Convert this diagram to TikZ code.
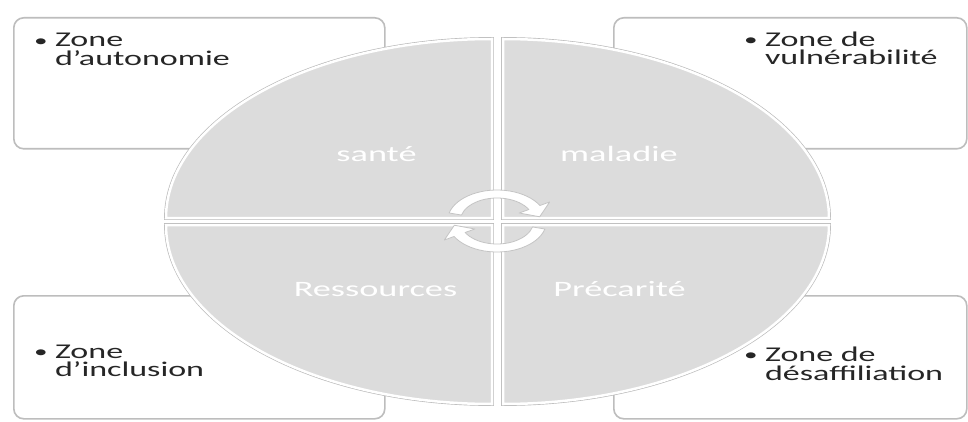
\documentclass[tikz,border=0pt]{standalone}
\usepackage{fontspec}
\setmainfont{Carlito}
\usepackage{graphicx}
\definecolor{quadfill}{HTML}{DCDCDC}
\definecolor{boxline}{HTML}{BDBDBD}
\definecolor{arrowline}{HTML}{C4C4C4}
\definecolor{zoneink}{HTML}{262626}
\newcommand{\zonebullet}{\raisebox{0.9pt}{\scalebox{0.8}{\textbullet}}}
\newcommand{\zonetext}[2]{\scalebox{1.62}[1]{\vbox{\fontsize{21}{18.5}\selectfont\hbox{\zonebullet\hspace{4.5pt}#1}\hbox{\hphantom{\zonebullet\hspace{4.5pt}}#2}}}}
\newcommand{\quadlabel}[1]{\scalebox{1.65}[1]{#1}}
\tikzset{
  zonebox/.style={draw=boxline, line width=1.6pt, fill=white, rounded corners=10pt, inner sep=0pt, anchor=north west},
  quadrant/.style={fill=quadfill, draw=white, line width=2.5pt},
  quadedge/.style={draw=gray!55, line width=3.8pt},
  cyclearrow/.style={fill=white, draw=arrowline, line width=0.8pt, line join=round},
  zonetxt/.style={inner sep=0pt, anchor=base west, text=zoneink},
  qlabel/.style={inner sep=0pt, anchor=base, text=white, font=\fontsize{22}{26}\selectfont},
}
\begin{document}
\begin{tikzpicture}[x=1pt,y=-1pt]
\path[fill=white,use as bounding box] (0,0) rectangle (968,422);
% zone boxes
\node[zonebox, minimum width=371pt, minimum height=131pt] (boxTL) at (13,17) {};
\node[zonebox, minimum width=353pt, minimum height=131pt] (boxTR) at (613,17) {};
\node[zonebox, minimum width=371pt, minimum height=123pt] (boxBL) at (13,295) {};
\node[zonebox, minimum width=353pt, minimum height=123pt] (boxBR) at (613,295) {};
% zone texts
\node[zonetxt] (txtTL) at (34,65.5) {\zonetext{Zone}{d’autonomie}};
\node[zonetxt] (txtTR) at (744,65) {\zonetext{Zone de}{vulnérabilité}};
\node[zonetxt] (txtBL) at (34,376.7) {\zonetext{Zone}{d’inclusion}};
\node[zonetxt] (txtBR) at (744,380) {\zonetext{Zone de}{désaffiliation}};
% quadrants
\foreach \st in {quadedge,quadrant}{
  \path[\st] (492,218) -- ++(-326,0) arc[start angle=180, end angle=270, x radius=326, y radius=179] -- cycle;
  \path[\st] (503,218) -- ++(0,-179) arc[start angle=270, end angle=360, x radius=326, y radius=179] -- cycle;
  \path[\st] (503,225) -- ++(326,0) arc[start angle=0, end angle=90, x radius=326, y radius=179] -- cycle;
  \path[\st] (492,225) -- ++(0,179) arc[start angle=90, end angle=180, x radius=326, y radius=179] -- cycle;
}
% cycle arrows
\begin{scope}[shift={(497,221)}, xscale=1.6, yscale=-1]
  \path[cyclearrow] (165:31) arc[start angle=165, end angle=30, radius=31] -- (30:38) -- (9:27) -- (30:16) -- (30:23) arc[start angle=30, end angle=165, radius=23] -- cycle;
  \begin{scope}[rotate=180]
  \path[cyclearrow] (165:31) arc[start angle=165, end angle=30, radius=31] -- (30:38) -- (9:27) -- (30:16) -- (30:23) arc[start angle=30, end angle=165, radius=23] -- cycle;
  \end{scope}
\end{scope}
% quadrant labels
\node[qlabel] (sante) at (376.5,161) {\quadlabel{santé}};
\node[qlabel] (maladie) at (619,161.5) {\quadlabel{maladie}};
\node[qlabel] (ressources) at (375.5,296.5) {\quadlabel{Ressources}};
\node[qlabel] (precarite) at (619.5,296.5) {\quadlabel{Précarité}};
\end{tikzpicture}
\end{document}
